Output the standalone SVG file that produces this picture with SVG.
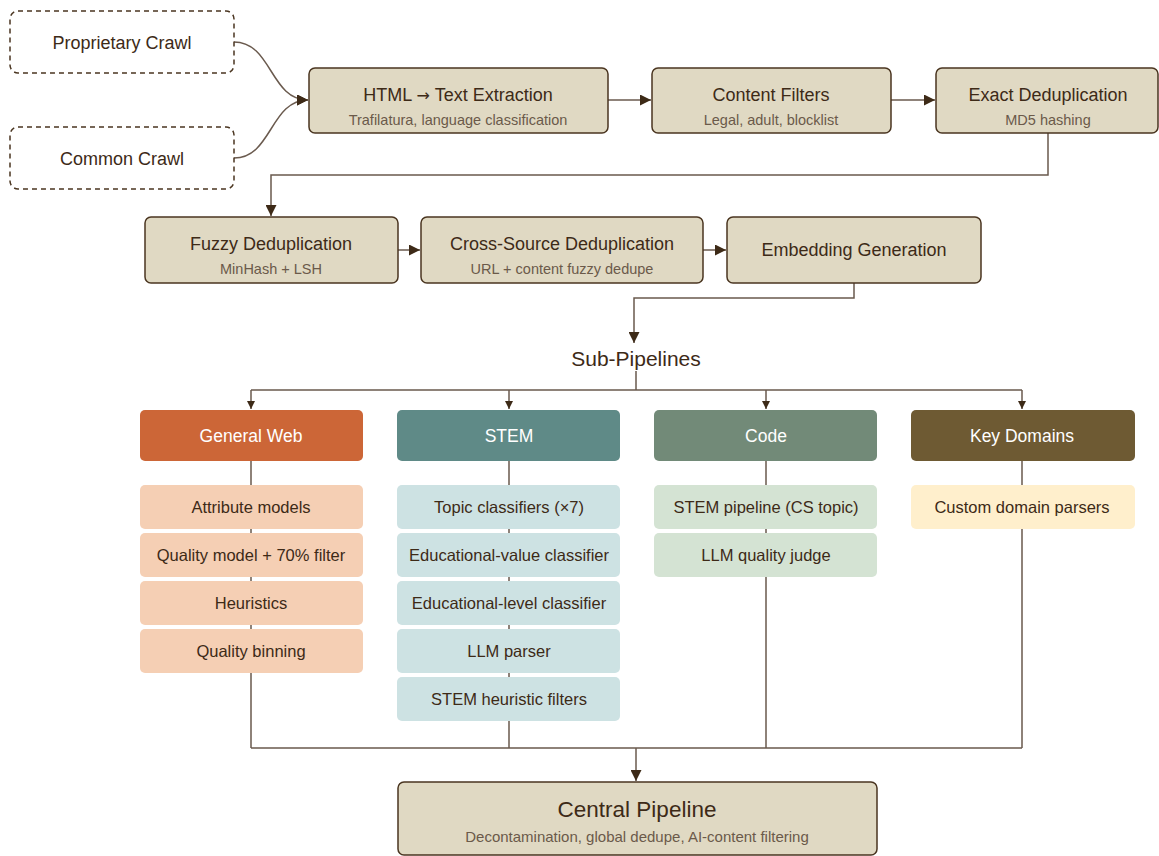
<svg xmlns="http://www.w3.org/2000/svg" width="1159" height="856" viewBox="0 0 1159 856">
<style>
text{font-family:"Liberation Sans",Arial,sans-serif;text-anchor:middle}
.node{fill:#E0D9C3;stroke:#4A3520;stroke-width:1.5}
.src{fill:#fff;stroke:#4A3520;stroke-width:1.5;stroke-dasharray:5,4}
.t{font-size:18px;fill:#3D2A17}
.s{font-size:14.5px;fill:#6B5A4A}
.c{fill:none;stroke:#6A5A4E;stroke-width:1.5}
.h{font-size:17.5px;fill:#fff}
.it{font-size:16.5px;fill:#3D2A17}
</style>
<defs>
<marker id="a" viewBox="0 0 10 10" refX="10" refY="5" markerWidth="8" markerHeight="8" markerUnits="userSpaceOnUse" orient="auto"><path d="M0,0L10,5L0,10z" fill="#3D2A17"/></marker>
<marker id="b" viewBox="0 0 10 10" refX="10" refY="5" markerWidth="11" markerHeight="11" markerUnits="userSpaceOnUse" orient="auto"><path d="M0,0L10,5L0,10z" fill="#3D2A17"/></marker>
</defs>
<g id="connectors">
<path class="c" d="M234,42C272,42 270,100 308,100" marker-end="url(#b)"/>
<path class="c" d="M234,158C272,158 270,100 308,100" marker-end="url(#b)"/>
<path class="c" d="M608,100H651" marker-end="url(#b)"/>
<path class="c" d="M891,100H935" marker-end="url(#b)"/>
<path class="c" d="M1048,133V175H271V216" marker-end="url(#b)"/>
<path class="c" d="M398,250H420" marker-end="url(#b)"/>
<path class="c" d="M703,250H726" marker-end="url(#b)"/>
<path class="c" d="M854,283V298H634V343" marker-end="url(#b)"/>
<path class="c" d="M636,371V390M251,390H1022"/>
<path class="c" d="M251,390V409" marker-end="url(#a)"/>
<path class="c" d="M509,390V409" marker-end="url(#a)"/>
<path class="c" d="M766,390V409" marker-end="url(#a)"/>
<path class="c" d="M1022,390V409" marker-end="url(#a)"/>
<path class="c" d="M251,461V748M509,461V748M766,461V748M1022,461V748M251,748H1022"/>
<path class="c" d="M636,748V781" marker-end="url(#b)"/>
</g>
<g id="proprietary"><rect class="src" x="10" y="11" width="224" height="62" rx="8"/><text class="t" x="122" y="49">Proprietary Crawl</text></g>
<g id="common"><rect class="src" x="10" y="127" width="224" height="62" rx="8"/><text class="t" x="122" y="165">Common Crawl</text></g>
<g id="html"><rect class="node" x="309" y="68" width="299" height="65" rx="6"/><text class="t" x="458" y="101">HTML <tspan style="font-family:'DejaVu Sans',sans-serif;font-size:16px">→</tspan> Text Extraction</text><text class="s" x="458" y="125">Trafilatura, language classification</text></g>
<g id="content"><rect class="node" x="652" y="68" width="239" height="65" rx="6"/><text class="t" x="771" y="101">Content Filters</text><text class="s" x="771" y="125">Legal, adult, blocklist</text></g>
<g id="exact"><rect class="node" x="936" y="68" width="222" height="65" rx="6"/><text class="t" x="1048" y="101">Exact Deduplication</text><text class="s" x="1048" y="125">MD5 hashing</text></g>
<g id="fuzzy"><rect class="node" x="145" y="217" width="253" height="66" rx="6"/><text class="t" x="271" y="250">Fuzzy Deduplication</text><text class="s" x="271" y="274">MinHash + LSH</text></g>
<g id="cross"><rect class="node" x="421" y="217" width="282" height="66" rx="6"/><text class="t" x="562" y="250">Cross-Source Deduplication</text><text class="s" x="562" y="274">URL + content fuzzy dedupe</text></g>
<g id="embedding"><rect class="node" x="727" y="217" width="254" height="66" rx="6"/><text class="t" x="854" y="256">Embedding Generation</text></g>
<g id="subpipelines"><text x="636" y="366" style="font-size:21px;fill:#3D2A17">Sub-Pipelines</text></g>
<g id="general-web">
<rect x="140" y="410" width="223" height="51" rx="5" fill="#CC6637"/><text class="h" x="251" y="442">General Web</text>
<rect x="140" y="485" width="223" height="44" rx="5" fill="#F5CFB4"/><text class="it" x="251" y="513">Attribute models</text>
<rect x="140" y="533" width="223" height="44" rx="5" fill="#F5CFB4"/><text class="it" x="251" y="561">Quality model + 70% filter</text>
<rect x="140" y="581" width="223" height="44" rx="5" fill="#F5CFB4"/><text class="it" x="251" y="609">Heuristics</text>
<rect x="140" y="629" width="223" height="44" rx="5" fill="#F5CFB4"/><text class="it" x="251" y="657">Quality binning</text>
</g>
<g id="stem">
<rect x="397" y="410" width="223" height="51" rx="5" fill="#5F8A87"/><text class="h" x="509" y="442">STEM</text>
<rect x="397" y="485" width="223" height="44" rx="5" fill="#CDE2E3"/><text class="it" x="509" y="513">Topic classifiers (×7)</text>
<rect x="397" y="533" width="223" height="44" rx="5" fill="#CDE2E3"/><text class="it" x="509" y="561">Educational-value classifier</text>
<rect x="397" y="581" width="223" height="44" rx="5" fill="#CDE2E3"/><text class="it" x="509" y="609">Educational-level classifier</text>
<rect x="397" y="629" width="223" height="44" rx="5" fill="#CDE2E3"/><text class="it" x="509" y="657">LLM parser</text>
<rect x="397" y="677" width="223" height="44" rx="5" fill="#CDE2E3"/><text class="it" x="509" y="705">STEM heuristic filters</text>
</g>
<g id="code">
<rect x="654" y="410" width="223" height="51" rx="5" fill="#728A78"/><text class="h" x="766" y="442">Code</text>
<rect x="654" y="485" width="223" height="44" rx="5" fill="#D4E3D3"/><text class="it" x="766" y="513">STEM pipeline (CS topic)</text>
<rect x="654" y="533" width="223" height="44" rx="5" fill="#D4E3D3"/><text class="it" x="766" y="561">LLM quality judge</text>
</g>
<g id="key-domains">
<rect x="911" y="410" width="224" height="51" rx="5" fill="#6E5A33"/><text class="h" x="1022" y="442">Key Domains</text>
<rect x="911" y="485" width="224" height="44" rx="5" fill="#FFEFCC"/><text class="it" x="1022" y="513">Custom domain parsers</text>
</g>
<g id="central"><rect class="node" x="398" y="782" width="479" height="73" rx="6"/><text x="637" y="817" style="font-size:22.5px;fill:#3D2A17">Central Pipeline</text><text class="s" x="637" y="842" style="font-size:15px">Decontamination, global dedupe, AI-content filtering</text></g>
</svg>
